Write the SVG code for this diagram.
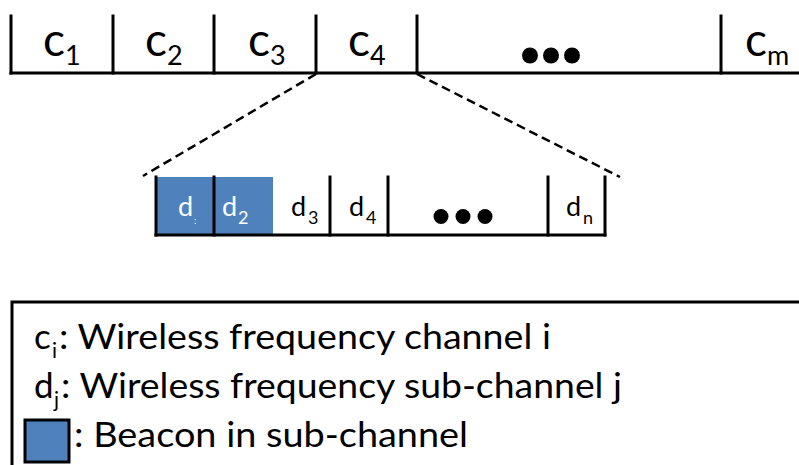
<svg xmlns="http://www.w3.org/2000/svg" width="799" height="465" viewBox="0 0 799 465">
<style>
.ln{stroke:#000;stroke-width:3;fill:none;stroke-linecap:square}
.dash{stroke:#000;stroke-width:2.5;fill:none;stroke-dasharray:9 5}
text{font-family:Lato,"Open Sans","Liberation Sans",sans-serif;fill:#000}
.big{font-size:46px}
.sub{font-size:27px}
.sm{font-size:27px}
.smsub{font-size:18px}
.leg{font-size:35px}
.legsub{font-size:21px}
.blue{fill:#4F81BD}
.w{fill:#fff}
.dot{fill:#000}
</style>
<rect width="799" height="465" fill="#fff"/>
<g id="channels">
  <line class="ln" x1="11" y1="73" x2="799" y2="73"/>
  <line class="ln" x1="11" y1="16" x2="11" y2="73"/>
  <line class="ln" x1="113" y1="16" x2="113" y2="73"/>
  <line class="ln" x1="214" y1="16" x2="214" y2="73"/>
  <line class="ln" x1="316" y1="16" x2="316" y2="73"/>
  <line class="ln" x1="417" y1="16" x2="417" y2="73"/>
  <line class="ln" x1="721" y1="16" x2="721" y2="73"/>
</g>
<g id="c1"><text class="big" x="43" y="56">c</text><text class="sub" x="65" y="65">1</text></g>
<g id="c2"><text class="big" x="145" y="56">c</text><text class="sub" x="167" y="65">2</text></g>
<g id="c3"><text class="big" x="248" y="56">c</text><text class="sub" x="270" y="65">3</text></g>
<g id="c4"><text class="big" x="348" y="56">c</text><text class="sub" x="370" y="65">4</text></g>
<g id="cdots"><circle class="dot" cx="530" cy="55.5" r="8"/><circle class="dot" cx="551" cy="55.5" r="8"/><circle class="dot" cx="572" cy="55.5" r="8"/></g>
<g id="cm"><text class="big" x="745" y="56">c</text><text class="sub" x="767" y="65">m</text></g>
<g id="connectors">
  <line class="dash" x1="316" y1="74" x2="143" y2="176"/>
  <line class="dash" x1="417" y1="74" x2="620" y2="177"/>
</g>
<g id="subchannels">
  <rect class="blue" x="156" y="177" width="58" height="58"/>
  <rect class="blue" x="214" y="177" width="59" height="58"/>
  <line class="ln" x1="156" y1="235" x2="605" y2="235"/>
  <line class="ln" x1="156" y1="177" x2="156" y2="235"/>
  <line class="ln" x1="214" y1="177" x2="214" y2="235"/>
  <line class="ln" x1="330" y1="177" x2="330" y2="235"/>
  <line class="ln" x1="388" y1="177" x2="388" y2="235"/>
  <line class="ln" x1="548" y1="177" x2="548" y2="235"/>
  <line class="ln" x1="605" y1="177" x2="605" y2="235"/>
</g>
<g id="d1"><text class="sm w" x="178" y="216">d</text><text class="w" x="194" y="224" font-size="9">:</text></g>
<g id="d2"><text class="sm w" x="222" y="216">d</text><text class="smsub w" x="238" y="224">2</text></g>
<g id="d3"><text class="sm" x="291" y="216">d</text><text class="smsub" x="308" y="224">3</text></g>
<g id="d4"><text class="sm" x="349" y="216">d</text><text class="smsub" x="366" y="224">4</text></g>
<g id="ddots"><circle class="dot" cx="441" cy="216.5" r="7.5"/><circle class="dot" cx="463" cy="216.5" r="7.5"/><circle class="dot" cx="485" cy="216.5" r="7.5"/></g>
<g id="dn"><text class="sm" x="566" y="216">d</text><text class="smsub" x="583" y="224">n</text></g>
<g id="legend">
  <rect class="ln" x="12" y="302" width="800" height="200"/>
  <text class="leg" x="34" y="349">c</text><text class="legsub" x="52" y="358">i</text><text class="leg" x="59" y="349" textLength="492" lengthAdjust="spacingAndGlyphs">: Wireless frequency channel i</text>
  <text class="leg" x="34" y="398">d</text><text class="legsub" x="54" y="407">j</text><text class="leg" x="61" y="398" textLength="561" lengthAdjust="spacingAndGlyphs">: Wireless frequency sub-channel j</text>
  <rect x="25" y="420" width="44" height="42" fill="#4F81BD" stroke="#000" stroke-width="3"/>
  <text class="leg" x="74" y="447" textLength="394" lengthAdjust="spacingAndGlyphs">: Beacon in sub-channel</text>
</g>
</svg>
